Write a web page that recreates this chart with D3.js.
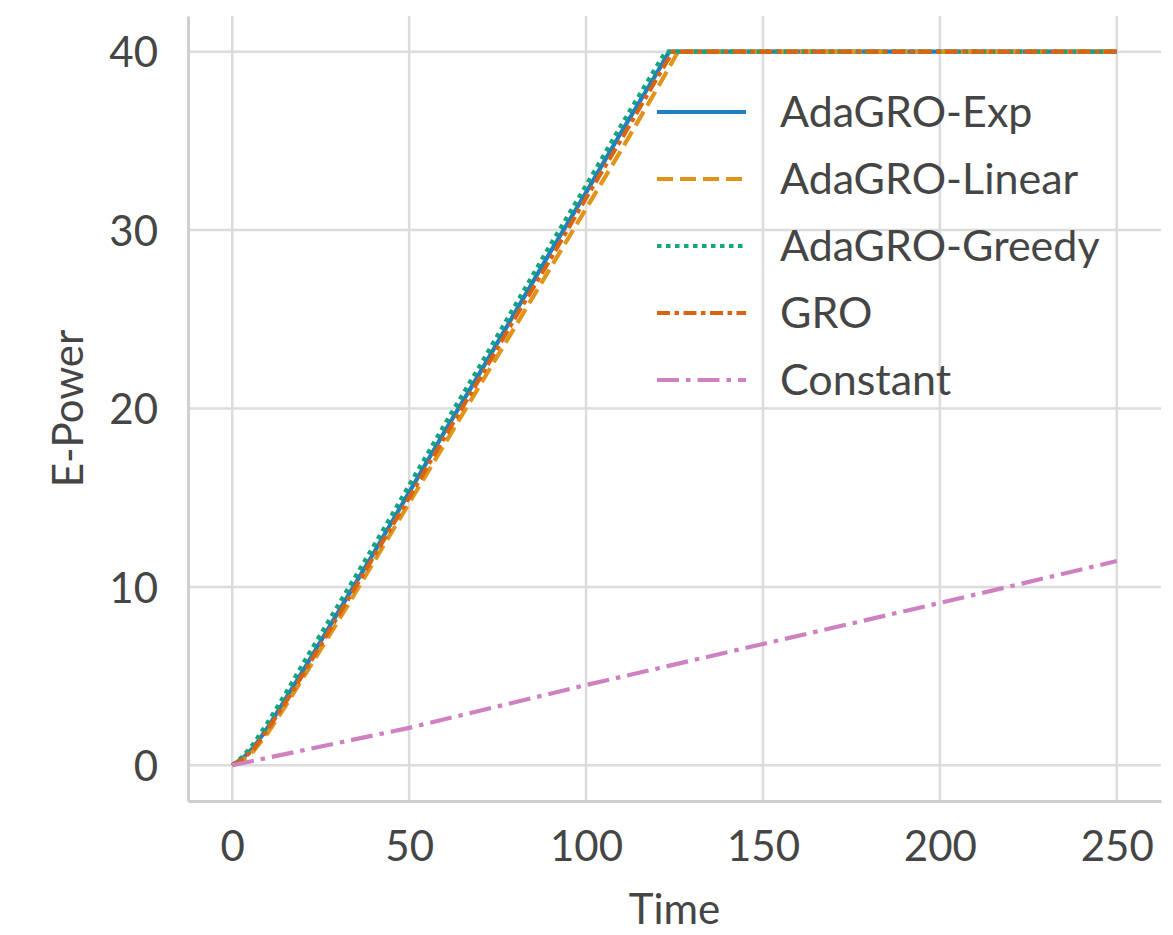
<!DOCTYPE html>
<html>
<head>
<meta charset="utf-8">
<script src="https://cdn.jsdelivr.net/npm/d3@7"></script>
<style>
  html, body { margin: 0; padding: 0; background: #fff; }
  svg { display: block; }
  text { font-family: Lato, "Open Sans", sans-serif; fill: #454545; }
</style>
</head>
<body>
<svg id="chart" width="1173" height="935"></svg>
<script>
// ---- data ----
const seriesNames = ["AdaGRO-Exp", "AdaGRO-Linear", "AdaGRO-Greedy", "GRO", "Constant"];
const timeExp     = [0, 3, 6, 10, 15, 20, 30, 40, 50, 60, 70, 80, 90, 100, 110, 120, 123.5, 150, 200, 250];
const valuesExp   = [0, 0.4, 1.0, 2.1, 3.7, 5.3, 8.6, 11.9, 15.3, 18.7, 22.0, 25.4, 28.8, 32.1, 35.5, 38.8, 40, 40, 40, 40];
const timeLinear  = [0, 3, 6, 10, 15, 20, 30, 40, 50, 60, 70, 80, 90, 100, 110, 120, 126, 150, 200, 250];
const valuesLinear= [0, 0.3, 0.8, 1.8, 3.3, 4.9, 8.1, 11.4, 14.7, 18.0, 21.3, 24.6, 27.9, 31.2, 34.5, 37.9, 40, 40, 40, 40];
const timeGreedy  = [0, 3, 6, 10, 15, 20, 30, 40, 50, 60, 70, 80, 90, 100, 110, 120, 122.5, 150, 200, 250];
const valuesGreedy= [0, 0.5, 1.2, 2.4, 4.0, 5.7, 9.0, 12.3, 15.7, 19.1, 22.4, 25.8, 29.2, 32.5, 35.9, 39.2, 40, 40, 40, 40];
const timeGRO     = [0, 3, 6, 10, 15, 20, 30, 40, 50, 60, 70, 80, 90, 100, 110, 120, 124.5, 150, 200, 250];
const valuesGRO   = [0, 0.35, 0.9, 2.0, 3.5, 5.1, 8.4, 11.7, 15.0, 18.4, 21.7, 25.1, 28.4, 31.8, 35.1, 38.5, 40, 40, 40, 40];
const timeConst   = [0, 50, 100, 150, 200, 250];
const valuesConst = [0, 2.1, 4.5, 6.8, 9.1, 11.45];
const xTicks = [0, 50, 100, 150, 200, 250];
const yTicks = [0, 10, 20, 30, 40];
const xLabel = "Time";
const yLabel = "E-Power";

const series = [
  { name: seriesNames[0], t: timeExp,    v: valuesExp,    color: "#1f7fc0", dash: null },
  { name: seriesNames[1], t: timeLinear, v: valuesLinear, color: "#e09418", dash: "16,7" },
  { name: seriesNames[2], t: timeGreedy, v: valuesGreedy, color: "#13a57d", dash: "4.5,4.5" },
  { name: seriesNames[3], t: timeGRO,    v: valuesGRO,    color: "#d86412", dash: "13,4.5,4.5,4.5" },
  { name: seriesNames[4], t: timeConst,  v: valuesConst,  color: "#cf80c0", dash: "22,7,4.5,7" }
];

// ---- layout ----
const plotL = 188, plotR = 1161, plotT = 16, plotB = 801;
const svg = d3.select("#chart");
const x = d3.scaleLinear().domain([-12.5, 262.5]).range([plotL, plotR]);
const y = d3.scaleLinear().domain([-2, 42]).range([plotB, plotT]);

const gridColor = "#dcdcdc";
// grid
svg.append("g").selectAll("line").data(xTicks).join("line")
  .attr("x1", d => x(d)).attr("x2", d => x(d))
  .attr("y1", plotT).attr("y2", plotB)
  .attr("stroke", gridColor).attr("stroke-width", 2.5);
svg.append("g").selectAll("line").data(yTicks).join("line")
  .attr("x1", plotL).attr("x2", plotR)
  .attr("y1", d => y(d)).attr("y2", d => y(d))
  .attr("stroke", gridColor).attr("stroke-width", 2.5);

// axes
const xAxis = d3.axisBottom(x).tickValues(xTicks).tickSize(0).tickPadding(30);
const yAxis = d3.axisLeft(y).tickValues(yTicks).tickSize(0).tickPadding(30);
const gx = svg.append("g").attr("transform", `translate(0,${plotB})`).call(xAxis);
const gy = svg.append("g").attr("transform", `translate(${plotL},0)`).call(yAxis);
[gx, gy].forEach(g => {
  g.select(".domain").attr("stroke", "#cfcfcf").attr("stroke-width", 3);
  g.selectAll("text").style("font-family", "Lato, 'Open Sans', sans-serif")
    .style("font-size", "42px").attr("fill", "#454545");
});
gx.selectAll("text").attr("dy", "0.72em");
gy.selectAll("text").attr("dy", "0.36em");

// axis labels
svg.append("text").attr("x", (x(0) + x(250)) / 2).attr("y", 924)
  .attr("text-anchor", "middle").style("font-size", "42px").text(xLabel);
svg.append("text").attr("transform", `translate(83,${(plotT + plotB) / 2}) rotate(-90)`)
  .attr("text-anchor", "middle").style("font-size", "42px").text(yLabel);

// lines
const line = d3.line().x(d => x(d[0])).y(d => y(d[1]));
const lg = svg.append("g");
series.forEach(s => {
  const pts = s.t.map((t, i) => [t, s.v[i]]);
  lg.append("path").datum(pts)
    .attr("d", line)
    .attr("fill", "none")
    .attr("stroke", s.color)
    .attr("stroke-width", 4.2)
    .attr("stroke-dasharray", s.dash)
    .attr("stroke-linecap", "butt");
});

// legend
const leg = svg.append("g");
series.forEach((s, i) => {
  const ly = 112 + i * 67;
  leg.append("line").attr("x1", 657).attr("x2", 746).attr("y1", ly).attr("y2", ly)
    .attr("stroke", s.color).attr("stroke-width", 4.2).attr("stroke-dasharray", s.dash);
  leg.append("text").attr("x", 780).attr("y", ly).attr("dy", "0.36em")
    .style("font-size", "43px").text(s.name);
});
</script>
</body>
</html>
